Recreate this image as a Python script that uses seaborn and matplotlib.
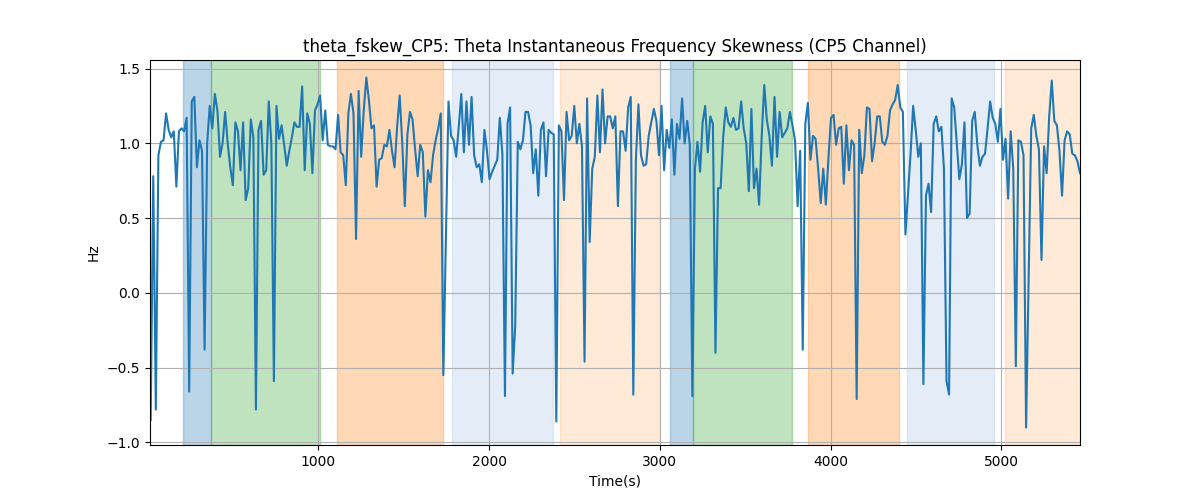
import numpy as np
import pandas as pd
import matplotlib
matplotlib.use("Agg")
import matplotlib.pyplot as plt
import seaborn as sns

# DATA

t_start = 18.0
t_end = 5461.0

fskew = [
    # 0 - 650 s
    -0.85, 0.78, -0.78, 0.92, 1.01, 1.02, 1.20, 1.09, 1.04, 1.08, 0.71, 1.08,
    1.10, 1.08, 1.17, -0.66, 1.28, 1.31, 0.84, 1.02, 0.95, -0.38, 1.00, 1.25,
    1.10, 1.33, 1.22, 0.91, 1.00, 1.21, 1.00, 0.84, 0.72, 1.14, 1.08, 0.82,
    1.14, 0.62, 0.70, 1.16, 1.04, -0.78, 1.09, 1.15,
    # 650 - 1350 s
    0.79, 0.82, 1.28, 1.00, -0.59, 1.25, 1.03, 1.12, 0.99, 0.85, 0.95, 1.04,
    1.14, 1.11, 1.11, 1.38, 0.82, 1.20, 1.13, 0.80, 1.22, 1.26, 1.32, 1.02,
    1.22, 0.99, 0.98, 0.98, 0.96, 1.19, 0.94, 0.92, 0.72, 1.20, 1.33, 1.20,
    0.36, 1.35, 0.91, 1.22, 1.44, 1.29, 1.10, 1.12, 0.71,
    # 1350 - 2050 s
    0.89, 0.90, 0.99, 0.98, 1.09, 0.95, 0.84, 1.11, 1.32, 1.00, 0.58, 1.06,
    1.21, 1.16, 0.96, 0.78, 0.99, 0.94, 0.51, 0.82, 0.74, 0.92, 1.02, 1.10,
    1.20, -0.55, 0.37, 1.28, 1.05, 1.02, 0.91, 1.11, 1.33, 0.94, 1.28, 0.99,
    1.31, 0.92, 0.84, 0.86, 0.74, 1.09, 0.95, 0.76, 0.81, 0.85,
    # 2050 - 2700 s
    0.89, 1.17, 0.93, -0.69, 1.13, 1.24, -0.54, -0.22, 1.01, 0.96, 1.02, 1.21,
    1.21, 1.12, 0.80, 0.96, 0.65, 1.09, 1.14, 0.78, 1.09, 1.07, 1.06, -0.86,
    1.12, 1.08, 0.62, 1.21, 1.02, 1.05, 1.25, 1.00, 1.13, 0.98, -0.46, 1.30,
    0.34, 0.83, 0.91, 1.32, 0.94, 1.36, 1.00, 1.18, 1.18,
    # 2700 - 3400 s
    1.10, 1.18, 0.58, 1.08, 1.08, 0.95, 1.24, 1.31, -0.68, 0.89, 1.26, 0.92,
    0.85, 0.86, 1.05, 1.14, 1.23, 1.15, 0.92, 1.25, 0.82, 1.09, 0.97, 1.16,
    0.79, 1.13, 1.03, 1.30, 1.00, 1.15, 0.99, -0.69, 0.83, 1.01, 0.81, 1.14,
    1.25, 0.94, 1.18, 1.13, -0.40, 0.70, 0.70, 1.04, 1.24,
    # 3400 - 4100 s
    1.14, 1.11, 1.17, 1.09, 1.10, 1.28, 1.10, 1.00, 0.68, 1.23, 0.70, 0.83,
    0.59, 1.04, 1.39, 1.16, 1.05, 0.85, 1.31, 0.91, 1.21, 1.04, 1.07, 1.10,
    1.21, 1.12, 1.02, 0.58, 0.95, -0.38, 1.13, 1.27, 0.89, 1.05, 1.03, 0.83,
    0.60, 0.83, 0.59, 0.90, 1.17, 1.19, 0.99, 1.10, 1.11, 0.73,
    # 4100 - 4780 s
    1.12, 0.82, 1.02, 0.99, -0.71, 1.09, 0.80, 0.92, 1.24, 1.23, 0.88, 1.00,
    1.18, 1.18, 1.01, 0.99, 1.05, 1.22, 1.26, 1.29, 1.39, 1.24, 1.21, 0.39,
    0.66, 0.93, 1.25, 1.09, 0.91, 1.00, -0.61, 0.65, 0.73, 0.54, 1.13, 1.18,
    1.08, 1.11, 0.83, -0.59, -0.68, 1.30, 1.24, 1.00, 0.76, 0.86,
    # 4780 - 5461 s
    1.14, 0.50, 0.53, 1.15, 1.21, 0.99, 0.85, 0.91, 0.93, 1.10, 1.28, 1.17,
    1.13, 1.01, 1.23, 0.89, 1.03, 0.63, 1.08, 0.83, -0.49, 1.02, 1.01, 0.92,
    -0.90, 0.10, 1.10, 1.19, 1.05, 0.96, 0.22, 0.98, 0.80, 1.18, 1.42, 1.15,
    1.12, 0.95, 0.65, 1.02, 1.08, 1.06, 0.93, 0.92, 0.88, 0.80,
]

# shaded phases
phase_start = [208, 370, 1110, 1781, 2416, 3062, 3196, 3868, 4448, 5022]
phase_end = [370, 1010, 1728, 2373, 2997, 3196, 3772, 4401, 4955, 5470]
phase_kind = ["a", "b", "c", "d", "e", "a", "b", "c", "d", "e"]

# STYLE

phase_style = {
    "a": ("tab:blue", 0.3),
    "b": ("tab:green", 0.3),
    "c": ("tab:orange", 0.3),
    "d": ("#aec7e8", 0.33),
    "e": ("tab:orange", 0.16),
}

times = np.linspace(t_start, t_end, len(fskew))
df = pd.DataFrame({"time": times, "fskew": fskew})

fig, ax = plt.subplots(figsize=(12, 5), dpi=100)

for s, e, k in zip(phase_start, phase_end, phase_kind):
    col, a = phase_style[k]
    ax.axvspan(s, e, color=col, alpha=a)

sns.lineplot(data=df, x="time", y="fskew", ax=ax, color="tab:blue", linewidth=1.5)

ax.set_xlim(t_start - 4, t_end)
ax.grid(True)
ax.set_title("theta_fskew_CP5: Theta Instantaneous Frequency Skewness (CP5 Channel)")
ax.set_xlabel("Time(s)")
ax.set_ylabel("Hz")

fig.savefig("out.png")
